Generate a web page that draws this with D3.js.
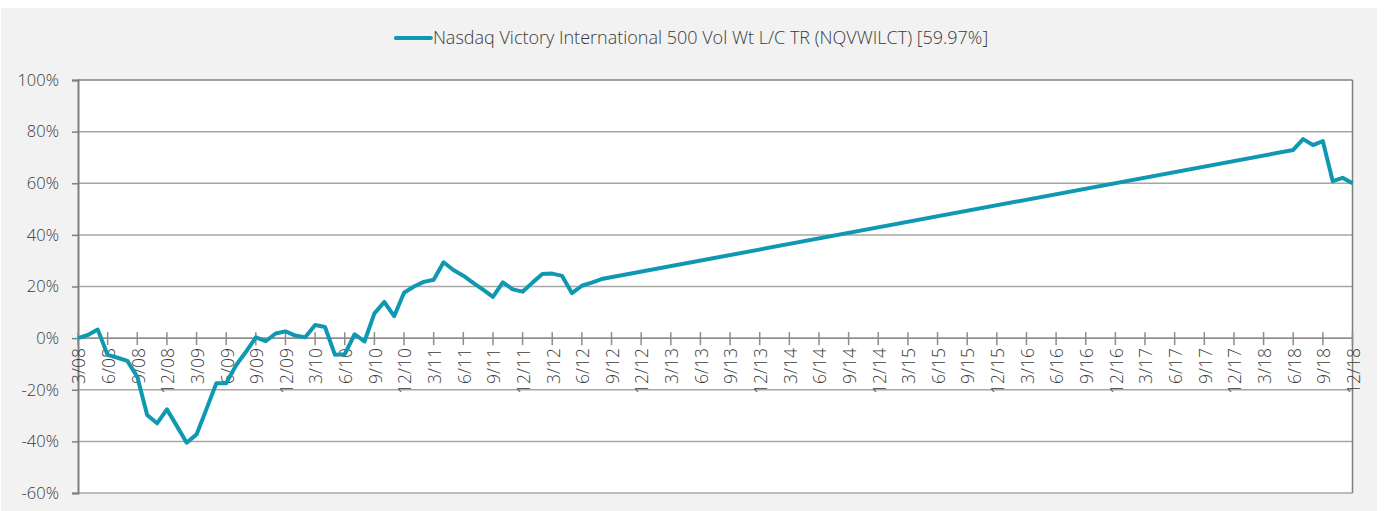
<!DOCTYPE html>
<html>
<head>
<meta charset="utf-8">
<script src="https://cdn.jsdelivr.net/npm/d3@7"></script>
<style>
  html, body { margin: 0; padding: 0; background: #fff; }
  text { font-family: "Open Sans", sans-serif; font-weight: 300; fill: #3a3a3a; }
</style>
</head>
<body>
<svg id="chart" width="1386" height="511"></svg>
<script>
// monthly index values, % since 3/08 (gap between 8/12 and 6/18 is joined by a straight line)
var months = ["2008-03","2008-04","2008-05","2008-06","2008-07","2008-08","2008-09","2008-10","2008-11","2008-12",
  "2009-01","2009-02","2009-03","2009-04","2009-05","2009-06","2009-07","2009-08","2009-09","2009-10","2009-11","2009-12",
  "2010-01","2010-02","2010-03","2010-04","2010-05","2010-06","2010-07","2010-08","2010-09","2010-10","2010-11","2010-12",
  "2011-01","2011-02","2011-03","2011-04","2011-05","2011-06","2011-07","2011-08","2011-09","2011-10","2011-11","2011-12",
  "2012-01","2012-02","2012-03","2012-04","2012-05","2012-06","2012-07","2012-08",
  "2018-06","2018-07","2018-08","2018-09","2018-10","2018-11","2018-12"];
var values = [0, 1.2, 3.3, -6.5, -7.6, -8.8, -15, -29.8, -33, -27.6,
  -34, -40.5, -37.3, -27.5, -17.5, -17.5, -10.5, -5.3, 0.3, -1.2, 1.8, 2.6,
  1.0, 0.3, 5.1, 4.3, -6.4, -6.2, 1.5, -1.3, 9.6, 14, 8.5, 17.6,
  20, 21.8, 22.6, 29.4, 26.4, 24.2, 21.4, 18.8, 16, 21.6, 18.9, 18,
  21.5, 24.8, 25, 24.1, 17.4, 20.3, 21.5, 22.9,
  72.9, 77.1, 74.8, 76.3, 60.8, 62.1, 59.97];
var seriesName = "Nasdaq Victory International 500 Vol Wt L/C TR (NQVWILCT) [59.97%]";
var yTicks = [-60, -40, -20, 0, 20, 40, 60, 80, 100];
var startYear = 2008, startMonth = 3, endYear = 2018, endMonth = 12;

// month number counted from 3/08
function monthIndex(s) {
  var p = s.split("-");
  return (+p[0] - startYear) * 12 + (+p[1] - startMonth);
}
var lastIdx = (endYear - startYear) * 12 + (endMonth - startMonth);

// quarter tick labels 3/08 ... 12/18
var quarterLabels = [];
for (var i = 0; i <= lastIdx; i += 3) {
  var m = (startMonth - 1 + i) % 12 + 1;
  var yy = startYear + Math.floor((startMonth - 1 + i) / 12);
  quarterLabels.push({ i: i, label: m + "/" + String(yy).slice(2) });
}

var svg = d3.select("#chart");
var plot = { left: 78, right: 1352.5, top: 80, bottom: 493 };

const x = d3.scaleLinear().domain([0, lastIdx]).range([plot.left, plot.right]);
const y = d3.scaleLinear().domain([-60, 100]).range([plot.bottom, plot.top]);

// chart area background
svg.append("rect").attr("x", 1).attr("y", 8).attr("width", 1376).attr("height", 503).attr("fill", "#f2f2f2");
svg.append("rect").attr("x", plot.left).attr("y", plot.top)
  .attr("width", plot.right - plot.left).attr("height", plot.bottom - plot.top).attr("fill", "#fff");

// horizontal gridlines
svg.append("g").selectAll("line").data(yTicks).join("line")
  .attr("x1", plot.left).attr("x2", plot.right)
  .attr("y1", d => y(d)).attr("y2", d => y(d))
  .attr("stroke", d => d == 100 ? "#7f7f7f" : "#a6a6a6")
  .attr("stroke-width", 1.5);

// y axis
var yAxis = svg.append("g").attr("transform", "translate(" + plot.left + ",0)")
  .call(d3.axisLeft(y).tickValues(yTicks).tickSize(6).tickFormat(d => d + "%"));
yAxis.select(".domain").attr("stroke", "#7f7f7f").attr("stroke-width", 2);
yAxis.selectAll(".tick line").attr("stroke", "#7f7f7f").attr("stroke-width", 1.5);
yAxis.selectAll(".tick text").attr("x", -19).attr("font-size", 16.5)
  .style("font-family", "'Open Sans', sans-serif").style("font-weight", 300).attr("fill", "#3a3a3a");

// right border
svg.append("line").attr("x1", plot.right).attr("x2", plot.right)
  .attr("y1", plot.top).attr("y2", plot.bottom).attr("stroke", "#7f7f7f").attr("stroke-width", 1.5);

// x axis on the 0% line
var xg = svg.append("g");
xg.append("line").attr("x1", plot.left).attr("x2", plot.right)
  .attr("y1", y(0)).attr("y2", y(0)).attr("stroke", "#8c8c8c").attr("stroke-width", 1.5);
xg.selectAll("line.tick").data(quarterLabels).join("line").attr("class", "tick")
  .attr("x1", d => x(d.i)).attr("x2", d => x(d.i))
  .attr("y1", y(0) - 6).attr("y2", y(0) + 7)
  .attr("stroke", "#8c8c8c").attr("stroke-width", 1.5);
xg.selectAll("text").data(quarterLabels).join("text")
  .attr("transform", d => "translate(" + (x(d.i) + 1) + "," + (y(0) + 10) + ") rotate(-90)")
  .attr("text-anchor", "end").attr("dy", "0.36em").attr("font-size", 17.5)
  .text(d => d.label);

// series line
const line = d3.line()
  .x(function(d, i) { return x(monthIndex(months[i])); })
  .y(function(d) { return y(d); });
svg.append("path")
  .attr("d", line(values))
  .attr("fill", "none")
  .attr("stroke", "#0f98b2")
  .attr("stroke-width", 4)
  .attr("stroke-linejoin", "round");

// legend
var lg = svg.append("g");
var lt = lg.append("text").attr("x", 39).attr("y", 0).attr("dy", "0.36em").attr("font-size", 18).text(seriesName);
lg.append("line").attr("x1", 2).attr("x2", 37).attr("y1", 0).attr("y2", 0)
  .attr("stroke", "#0f98b2").attr("stroke-width", 4).attr("stroke-linecap", "round");
var lw = 39 + lt.node().getComputedTextLength();
lg.attr("transform", "translate(" + (391 + (600 - lw) / 2) + ",38)");
</script>
</body>
</html>
